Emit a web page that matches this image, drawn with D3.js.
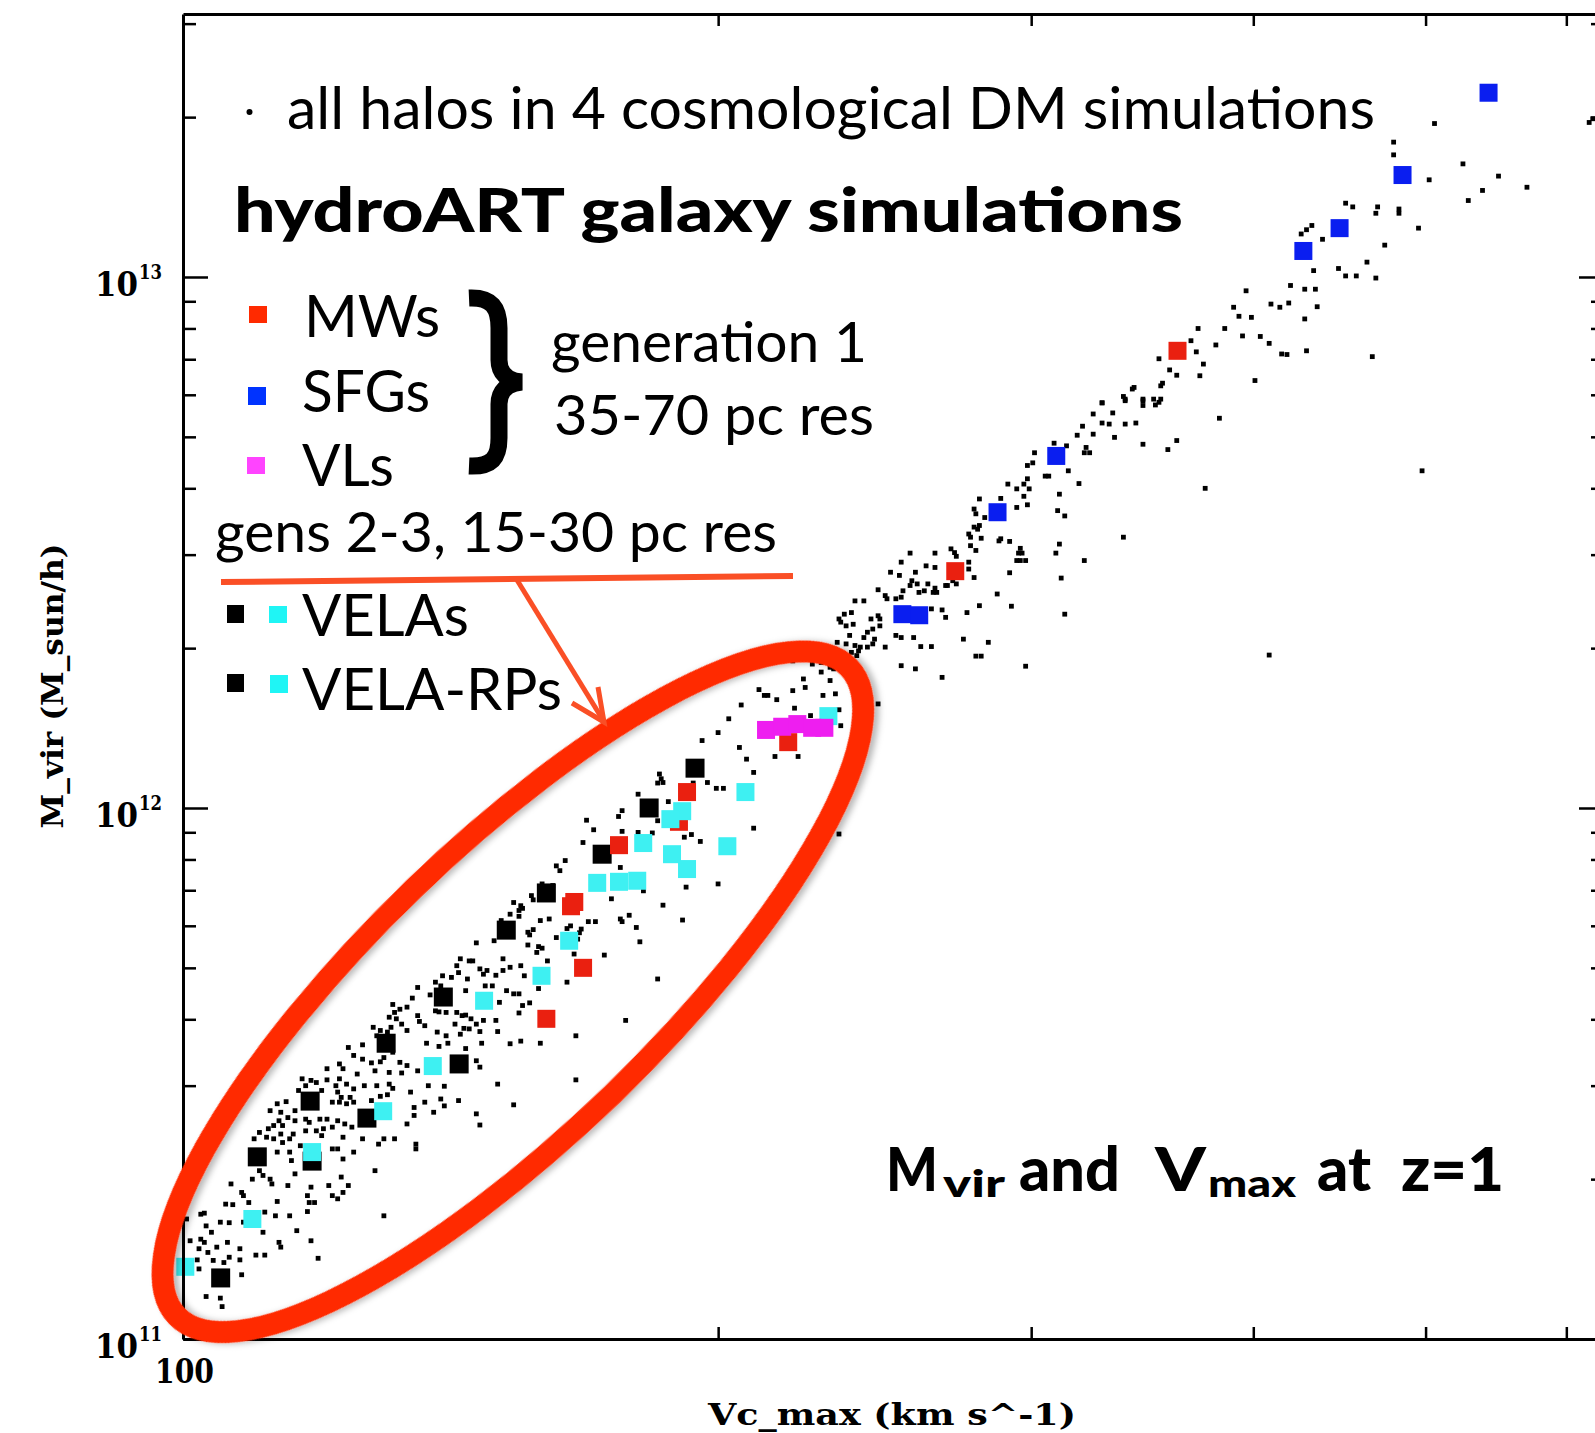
<!DOCTYPE html>
<html><head><meta charset="utf-8">
<script src="https://cdn.jsdelivr.net/npm/d3@7"></script>
<style>html,body{margin:0;padding:0;background:#fff;overflow:hidden}</style>
</head><body>
<svg id="chart" width="1595" height="1433"></svg>
<script>
// ---------------- DATA ----------------
// all halos in DM simulations: [log10 Vc_max (km/s), log10 M_vir (M_sun/h)]
const haloDots = [
[2.093,11.549],[2.101,11.554],[2.118,11.540],[2.137,11.557],[2.144,11.551],[2.149,11.557],[2.159,11.547],[2.168,11.557],[2.184,11.556],
[2.096,11.534],[2.101,11.527],[2.106,11.520],[2.111,11.522],[2.113,11.530],[2.122,11.521],[2.088,11.518],[2.081,11.509],[2.090,11.509],
[2.098,11.499],[2.108,11.505],[2.116,11.502],[2.123,11.501],[2.132,11.505],[2.126,11.515],[2.165,11.524],[2.167,11.512],
[2.067,11.490],[2.072,11.487],[2.075,11.483],[2.081,11.488],[2.088,11.490],[2.086,11.477],[2.092,11.480],[2.096,11.471],[2.102,11.477],
[2.109,11.477],[2.116,11.480],[2.118,11.472],[2.128,11.465],[2.138,11.477],[2.147,11.476],[2.177,11.480],[2.186,11.441],
[2.065,11.468],[2.069,11.477],[2.078,11.468],[2.087,11.465],[2.089,11.455],[2.094,11.455],[2.084,11.446],[2.088,11.446],[2.092,11.443],
[2.096,11.446],[2.106,11.449],[2.111,11.457],[2.115,11.460],[2.130,11.436],[2.136,11.446],[2.145,11.452],[2.147,11.439],[2.155,11.449],
[2.053,11.443],[2.058,11.447],[2.063,11.430],[2.049,11.430],[2.055,11.427],[2.059,11.417],[2.054,11.411],[2.051,11.402],[2.056,11.402],
[2.048,11.396],[2.043,11.389],[2.040,11.377],[2.047,11.380],[2.051,11.377],[2.055,11.386],[2.063,11.411],[2.069,11.414],[2.071,11.408],
[2.077,11.414],[2.081,11.414],[2.087,11.411],[2.091,11.405],[2.095,11.399],[2.084,11.399],[2.079,11.396],[2.075,11.392],[2.069,11.392],
[2.062,11.386],[2.060,11.377],[2.056,11.370],[2.053,11.352],[2.060,11.352],[2.066,11.364],[2.078,11.383],[2.090,11.380],[2.101,11.377],
[2.110,11.367],[2.113,11.377],[2.119,11.377],[2.130,11.421],[2.141,11.427],[2.165,11.424],[2.167,11.403],[2.126,11.405],[2.131,11.367],
[2.131,11.358],[2.084,11.358],[2.087,11.358],[2.090,11.339],[2.096,11.352],[2.061,11.336],[2.063,11.311],[2.043,11.317],[2.039,11.301],
[2.045,11.308],[2.049,11.301],[2.050,11.292],[2.059,11.289],[2.072,11.286],[2.082,11.289],[2.089,11.305],[2.093,11.289],[2.084,11.270],
[2.087,11.264],[2.090,11.276],[2.070,11.270],[2.071,11.257],[2.074,11.257],[2.070,11.240],[2.108,11.317],[2.027,11.292],[2.033,11.276],
[2.034,11.270],[2.037,11.257],[2.024,11.254],[2.028,11.253],[2.053,11.259],[2.046,11.239],[2.052,11.232],[2.060,11.232],[2.010,11.235],
[2.012,11.237],[2.002,11.226],[2.013,11.213],[2.021,11.220],[2.026,11.219],[2.034,11.220],[2.045,11.201],[2.064,11.204],[2.054,11.182],
[2.055,11.173],[2.072,11.185],[2.076,11.152],[2.113,11.232],[2.004,11.185],[2.010,11.188],[2.012,11.182],[2.009,11.170],[2.016,11.201],
[2.014,11.163],[2.019,11.173],[2.025,11.182],[2.032,11.170],[2.041,11.158],[2.046,11.158],[2.026,11.154],[2.017,11.148],[2.023,11.144],
[2.032,11.149],[2.008,11.149],[2.009,11.132],[2.004,11.138],[2.033,11.121],[2.013,11.080],[2.021,11.077],[2.022,11.061],[2.001,11.047],[2.014,11.022],
[2.225,11.935],[2.215,11.901],[2.210,11.891],[2.212,11.882],[2.246,11.888],[2.241,11.829],[2.259,11.844],[2.246,11.791],[2.247,11.786],
[2.251,11.798],[2.255,11.775],[2.257,11.748],[2.237,11.723],[2.267,11.678],[2.249,11.600],[2.221,11.571],[2.202,11.857],[2.208,11.854],
[2.196,11.835],[2.197,11.827],[2.186,11.822],[2.190,11.816],[2.191,11.811],[2.189,11.807],[2.184,11.800],[2.189,11.796],[2.201,11.788],
[2.206,11.791],[2.216,11.773],[2.218,11.778],[2.224,11.772],[2.223,11.765],[2.228,11.786],[2.232,11.786],[2.222,11.753],[2.220,11.725],
[2.210,11.756],[2.194,11.766],[2.197,11.771],[2.195,11.761],[2.200,11.739],[2.202,11.736],[2.194,11.742],[2.199,11.728],[2.205,11.712],
[2.216,11.672],[2.200,11.660],[2.179,11.788],[2.175,11.750],[2.165,11.746],[2.180,11.716],[2.184,11.700],[2.180,11.694],[2.176,11.685],
[2.171,11.694],[2.169,11.687],[2.167,11.697],[2.163,11.712],[2.161,11.712],[2.156,11.716],[2.154,11.703],[2.155,11.690],[2.160,11.678],
[2.151,11.681],[2.146,11.684],[2.142,11.672],[2.145,11.665],[2.159,11.656],[2.170,11.665],[2.174,11.665],[2.190,11.703],[2.192,11.684],
[2.182,11.656],[2.186,11.650],[2.189,11.650],[2.191,11.628],[2.195,11.633],[2.189,11.614],[2.178,11.634],[2.132,11.662],[2.139,11.648],
[2.129,11.642],[2.126,11.625],[2.122,11.621],[2.118,11.630],[2.119,11.615],[2.120,11.603],[2.117,11.587],[2.116,11.606],[2.123,11.593],
[2.126,11.581],[2.132,11.609],[2.136,11.590],[2.133,11.598],[2.148,11.615],[2.142,11.618],[2.144,11.616],[2.154,11.615],[2.157,11.609],
[2.159,11.610],[2.153,11.593],[2.162,11.603],[2.165,11.593],[2.169,11.600],[2.167,11.579],[2.176,11.600],[2.177,11.579],[2.161,11.584],
[2.158,11.585],[2.156,11.574],[2.148,11.571],[2.143,11.578],[2.107,11.587],[2.111,11.581],[2.109,11.571],[2.115,11.578],
[2.370,12.350],[2.373,12.343],[2.377,12.346],[2.375,12.325],[2.368,12.312],[2.373,12.309],[2.378,12.306],[2.380,12.296],[2.376,12.293],
[2.372,12.287],[2.379,12.287],[2.343,12.277],[2.354,12.271],[2.359,12.274],[2.364,12.265],[2.366,12.262],[2.359,12.256],[2.349,12.243],
[2.364,12.240],[2.350,12.227],[2.324,12.223],[2.327,12.212],[2.329,12.212],[2.334,12.204],[2.343,12.221],[2.360,12.212],[2.367,12.215],
[2.314,12.194],[2.344,12.188],[2.369,12.185],[2.353,12.174],[2.307,12.168],[2.370,12.155],[2.301,12.142],[2.292,12.127],[2.313,12.114],
[2.333,12.097],[2.346,12.097],[2.317,12.092],[2.321,12.067],[2.295,12.048],[2.300,12.037],[2.304,12.037],[2.321,11.962],[2.369,11.951],
[2.268,12.064],[2.269,12.055],[2.267,12.047],[2.270,12.048],[2.287,12.047],[2.256,12.026],[2.273,12.012],[2.247,11.995],[2.245,11.984],
[2.267,11.976],[2.227,11.977],[2.231,11.959],[2.247,11.956],[2.256,11.954],[2.264,11.953],[2.282,11.945],[2.286,11.950],[2.291,11.937],
[2.190,11.561],[2.201,11.557],[2.221,11.488],[2.189,11.318],[2.301,11.857],[2.281,11.789],[2.283,11.851],[2.270,11.817],
[2.517,12.763],[2.530,12.767],[2.540,12.767],[2.540,12.758],[2.547,12.759],[2.549,12.764],[2.512,12.742],[2.523,12.744],[2.517,12.725],
[2.521,12.723],[2.530,12.723],[2.536,12.725],[2.583,12.734],[2.503,12.702],[2.512,12.704],[2.524,12.698],[2.506,12.719],[2.540,12.685],
[2.559,12.692],[2.554,12.675],[2.490,12.687],[2.497,12.682],[2.508,12.679],[2.507,12.669],[2.510,12.669],[2.479,12.669],[2.478,12.650],
[2.475,12.645],[2.485,12.625],[2.487,12.625],[2.498,12.635],[2.504,12.611],[2.493,12.591],[2.464,12.610],[2.469,12.601],[2.475,12.620],
[2.473,12.610],[2.476,12.601],[2.473,12.587],[2.475,12.571],[2.469,12.566],[2.448,12.582],[2.460,12.583],[2.445,12.563],[2.446,12.554],
[2.451,12.547],[2.492,12.560],[2.496,12.550],[2.575,12.602],[2.529,12.510],[2.445,12.529],[2.448,12.532],[2.447,12.525],[2.442,12.516],
[2.443,12.510],[2.449,12.508],[2.460,12.507],[2.465,12.502],[2.459,12.503],[2.443,12.494],[2.446,12.485],[2.471,12.489],[2.470,12.480],
[2.472,12.480],[2.493,12.497],[2.491,12.480],[2.469,12.466],[2.471,12.466],[2.474,12.466],[2.507,12.466],[2.432,12.488],[2.434,12.481],
[2.435,12.474],[2.409,12.480],[2.423,12.480],[2.404,12.463],[2.412,12.444],[2.418,12.456],[2.423,12.453],[2.398,12.444],[2.403,12.438],
[2.410,12.428],[2.413,12.422],[2.419,12.422],[2.409,12.419],[2.422,12.406],[2.430,12.419],[2.433,12.428],[2.435,12.422],[2.442,12.463],
[2.442,12.450],[2.445,12.434],[2.465,12.443],[2.494,12.433],[2.458,12.403],[2.391,12.411],[2.378,12.390],[2.383,12.390],[2.395,12.400],
[2.396,12.394],[2.401,12.394],[2.404,12.397],[2.405,12.409],[2.414,12.406],[2.417,12.409],[2.423,12.414],[2.424,12.406],[2.429,12.419],
[2.369,12.356],[2.372,12.365],[2.376,12.368],[2.387,12.356],[2.391,12.362],[2.392,12.356],[2.392,12.343],[2.388,12.337],[2.385,12.331],
[2.389,12.318],[2.383,12.321],[2.388,12.309],[2.395,12.303],[2.381,12.303],[2.385,12.303],[2.401,12.325],[2.404,12.321],[2.411,12.321],
[2.415,12.304],[2.421,12.304],[2.421,12.375],[2.427,12.373],[2.429,12.359],[2.441,12.368],[2.448,12.381],[2.453,12.312],[2.439,12.318],
[2.446,12.286],[2.449,12.286],[2.474,12.267],[2.466,12.380],[2.412,12.262],[2.404,12.268],[2.427,12.246],[2.611,12.288],[2.496,12.365],[2.391,12.196],
[2.704,13.289],[2.681,13.254],[2.681,13.230],[2.720,13.213],[2.701,13.183],[2.740,13.190],[2.756,13.169],[2.731,13.163],[2.723,13.144],
[2.654,13.139],[2.658,13.132],[2.672,13.132],[2.671,13.120],[2.684,13.128],[2.684,13.120],[2.695,13.092],[2.635,13.097],[2.632,13.089],
[2.629,13.081],[2.641,13.071],[2.676,13.060],[2.666,13.028],[2.636,13.012],[2.650,13.016],[2.654,13.002],[2.660,13.002],[2.671,12.998],
[2.623,12.984],[2.631,12.977],[2.637,12.977],[2.598,12.974],[2.612,12.949],[2.617,12.943],[2.622,12.951],[2.638,12.944],[2.591,12.943],
[2.594,12.926],[2.601,12.924],[2.631,12.921],[2.571,12.903],[2.586,12.903],[2.567,12.880],[2.596,12.889],[2.606,12.888],[2.611,12.875],
[2.581,12.872],[2.570,12.859],[2.549,12.846],[2.618,12.855],[2.621,12.854],[2.632,12.861],[2.669,12.850],[2.574,12.836],[2.555,12.825],
[2.559,12.815],[2.572,12.814],[2.603,12.805],[2.535,12.792],[2.534,12.789],[2.551,12.800],[2.550,12.795],[2.529,12.775],[2.530,12.770],
[2.540,12.770],[2.546,12.770],[2.550,12.770],[2.517,12.763],[2.697,12.635],[2.791,13.291],[2.793,13.298]
];

// hydroART galaxies: [Vc_max (km/s), log10 M_vir]
const velaBlack = [
[194.1,12.075],[182.9,12.000],[172.1,11.913],[160.1,11.840],[152.0,11.770],[140.1,11.644],[130.1,11.557],
[143.0,11.518],[117.9,11.448],[126.9,11.416],[118.2,11.335],[110.1,11.343],[105.0,11.115]
];
const velaCyan = [
[230.7,12.173],[207.2,12.030],[190.9,11.994],[188.0,11.979],[181.5,11.934],[202.4,11.928],[188.4,11.913],
[192.1,11.885],[171.0,11.859],[175.9,11.861],[180.1,11.863],[164.9,11.750],[159.1,11.684],[147.7,11.637],
[138.2,11.514],[129.6,11.429],[118.2,11.352],[109.4,11.226],[100.3,11.136]
];
const mwRed = [
[362.6,12.861],[271.9,12.446],[219.0,12.124],[192.1,12.030],[190.1,11.974],[175.9,11.930],
[165.3,11.815],[166.0,11.823],[167.9,11.699],[160.1,11.603]
];
const vlMagenta = [
[212.8,12.147],[217.3,12.153],[221.6,12.158],[225.9,12.151],[229.5,12.151]
];
const sfgBlue = [
[542.5,13.347],[485.3,13.192],[447.3,13.092],[426.8,13.049],[309.9,12.663],[287.2,12.557],[253.9,12.365],[259.5,12.363]
];

const xTickValues = [200, 300, 400, 500, 600];
const xTickLabels = [100];
const yLabelExponents = [11, 12, 13];
const xDomain = [100, 630];
const yDomain = [1e11, 3.128e13];
// ellipse annotation centre, in data units
const ellipseCentre = [153.3, 11.654];

// ---------------- DRAW ----------------
const svg = d3.select("#chart");
const plot = {left:183, right:1604, top:14, bottom:1339};
const x = d3.scaleLog().domain(xDomain).range([plot.left, plot.right]);
const y = d3.scaleLog().domain(yDomain).range([plot.bottom, plot.top]);

const defs = svg.append("defs");
const f = defs.append("filter").attr("id","shadow").attr("x","-20%").attr("y","-20%").attr("width","140%").attr("height","140%");
f.append("feDropShadow").attr("dx",3).attr("dy",4).attr("stdDeviation",3).attr("flood-color","#000").attr("flood-opacity",0.28);

const serif = "'DejaVu Serif', 'Liberation Serif', serif";
const sans = "Lato, 'Open Sans', 'Noto Sans', sans-serif";

// halos
svg.append("g").selectAll("rect").data(haloDots).join("rect")
  .attr("x", d => x(Math.pow(10,d[0])) - 2.4)
  .attr("y", d => y(Math.pow(10,d[1])) - 2.4)
  .attr("width", 4.8).attr("height", 4.8).attr("fill", "#000");

function squares(data, color, size) {
  svg.append("g").selectAll("rect").data(data).join("rect")
    .attr("x", d => x(d[0]) - size/2)
    .attr("y", d => y(Math.pow(10,d[1])) - size/2)
    .attr("width", size).attr("height", size).attr("fill", color);
}
squares(velaBlack, "#000", 19);
squares(mwRed, "#ea2010", 18);
squares(velaCyan, "#3ef0f2", 18);
squares(vlMagenta, "#ee1ef0", 18);
squares(sfgBlue, "#0a1ef0", 18);

// axes
function styleAxis(g) {
  g.select(".domain").attr("stroke","#000").attr("stroke-width",3);
  g.selectAll(".tick line").attr("stroke","#000").attr("stroke-width",2.5);
}
const isMajor = d => Math.abs(Math.log10(d) - Math.round(Math.log10(d))) < 1e-6;
const yTicks = y.ticks();

svg.append("g").attr("transform",`translate(0,${plot.bottom})`)
  .call(d3.axisBottom(x).tickValues(xTickValues).tickSize(-12).tickSizeOuter(0).tickFormat(""))
  .call(styleAxis);
svg.append("g").attr("transform",`translate(0,${plot.top})`)
  .call(d3.axisTop(x).tickValues(xTickValues).tickSize(-12).tickSizeOuter(0).tickFormat(""))
  .call(styleAxis);
const gl = svg.append("g").attr("transform",`translate(${plot.left},0)`)
  .call(d3.axisLeft(y).tickValues(yTicks).tickSizeOuter(0).tickFormat(""))
  .call(styleAxis);
gl.selectAll(".tick line").attr("x2", d => isMajor(d) ? 25 : 13);
const gr = svg.append("g").attr("transform",`translate(${plot.right},0)`)
  .call(d3.axisRight(y).tickValues(yTicks).tickSizeOuter(0).tickFormat(""))
  .call(styleAxis);
gr.selectAll(".tick line").attr("x2", d => isMajor(d) ? -25 : -13);

// tick labels
yLabelExponents.forEach(e => {
  const yy = y(Math.pow(10,e));
  svg.append("text").attr("x",138).attr("y",yy+19).attr("text-anchor","end")
    .attr("font-family",serif).attr("font-weight","bold").attr("font-size",33)
    .attr("textLength",43).attr("lengthAdjust","spacingAndGlyphs").text("10");
  svg.append("text").attr("x",139).attr("y",yy+2).attr("font-family",serif).attr("font-weight","bold")
    .attr("font-size",21).attr("textLength",23).attr("lengthAdjust","spacingAndGlyphs").text(String(e));
});
xTickLabels.forEach(v => {
  svg.append("text").attr("x",x(v)+1.5).attr("y",1383).attr("text-anchor","middle")
    .attr("font-family",serif).attr("font-weight","bold").attr("font-size",33)
    .attr("textLength",59).attr("lengthAdjust","spacingAndGlyphs").text(String(v));
});

// axis titles
svg.append("text").attr("x",708).attr("y",1425).attr("font-family",serif).attr("font-weight","bold")
  .attr("font-size",30).attr("textLength",368).attr("lengthAdjust","spacingAndGlyphs").text("Vc_max (km s^-1)");
svg.append("text").attr("transform","translate(63,686) rotate(-90)").attr("text-anchor","middle")
  .attr("font-family",serif).attr("font-weight","bold").attr("font-size",30)
  .attr("textLength",285).attr("lengthAdjust","spacingAndGlyphs").text("M_vir (M_sun/h)");

// annotation ellipse
const ec = [x(ellipseCentre[0]), y(Math.pow(10,ellipseCentre[1]))];
svg.append("ellipse").attr("cx",ec[0]).attr("cy",ec[1]).attr("rx",467).attr("ry",143)
  .attr("transform",`rotate(-44,${ec[0]},${ec[1]})`)
  .attr("fill","none").attr("stroke","#ff2a00").attr("stroke-width",22).attr("filter","url(#shadow)");

// text annotations
function txt(str, px, py, size, weight, width, fill) {
  const t = svg.append("text").attr("x",px).attr("y",py).attr("font-family",sans)
    .attr("font-size",size).attr("font-weight",weight).attr("fill",fill||"#000").text(str);
  if (width) t.attr("textLength",width).attr("lengthAdjust","spacingAndGlyphs");
  return t;
}
svg.append("circle").attr("cx",249.5).attr("cy",112).attr("r",3).attr("fill","#000");
txt("all halos in 4 cosmological DM simulations", 287, 129, 58, 400, 1088);
txt("hydroART galaxy simulations", 234, 232, 61, 900, 949);

svg.append("rect").attr("x",249).attr("y",306).attr("width",18).attr("height",17).attr("fill","#ff2a00");
svg.append("rect").attr("x",248).attr("y",387).attr("width",18).attr("height",18).attr("fill","#0033ff");
svg.append("rect").attr("x",247).attr("y",457).attr("width",18).attr("height",17).attr("fill","#ff44ff");
txt("MWs", 304, 337, 58, 400, 136);
txt("SFGs", 302, 412, 58, 400, 128);
txt("VLs", 302, 486, 58, 400, 92);

svg.append("path")
  .attr("d","M469,298 C492,297 499,308 499,328 L499,360 C499,373 507,381 522,382 C507,383 499,391 499,404 L499,438 C499,458 492,467 469,466")
  .attr("fill","none").attr("stroke","#000").attr("stroke-width",17).attr("stroke-linejoin","miter");

txt("generation 1", 551, 362, 56, 400, 316);
txt("35-70 pc res", 554, 435, 56, 400, 320);
txt("gens 2-3, 15-30 pc res", 215, 552, 56, 400, 562);

svg.append("line").attr("x1",221).attr("y1",582).attr("x2",793).attr("y2",576)
  .attr("stroke","#fa4f26").attr("stroke-width",6);
svg.append("line").attr("x1",517).attr("y1",580).attr("x2",603).attr("y2",720)
  .attr("stroke","#fa4f26").attr("stroke-width",5);
svg.append("path").attr("d","M572,703 L604,722 L598,687").attr("fill","none")
  .attr("stroke","#fa4f26").attr("stroke-width",5).attr("stroke-linejoin","miter");

svg.append("rect").attr("x",227).attr("y",605).attr("width",17).attr("height",18).attr("fill","#000");
svg.append("rect").attr("x",269).attr("y",606).attr("width",18).attr("height",17).attr("fill","#1ff5f5");
svg.append("rect").attr("x",227).attr("y",674).attr("width",17).attr("height",18).attr("fill","#000");
svg.append("rect").attr("x",270).attr("y",675).attr("width",18).attr("height",18).attr("fill","#1ff5f5");
txt("VELAs", 302, 636, 58, 400, 167);
txt("VELA-RPs", 302, 710, 58, 400, 260);

txt("M", 886, 1191, 61, 900, 52);
txt("vir", 943, 1197, 38, 900, 62);
txt("and", 1019, 1191, 61, 900, 101);
txt("V", 1155, 1191, 61, 900, 51);
txt("max", 1208, 1197, 38, 900, 88);
txt("at", 1317, 1191, 61, 900, 54);
txt("z=1", 1401, 1191, 61, 900, 103);
</script></body></html>
